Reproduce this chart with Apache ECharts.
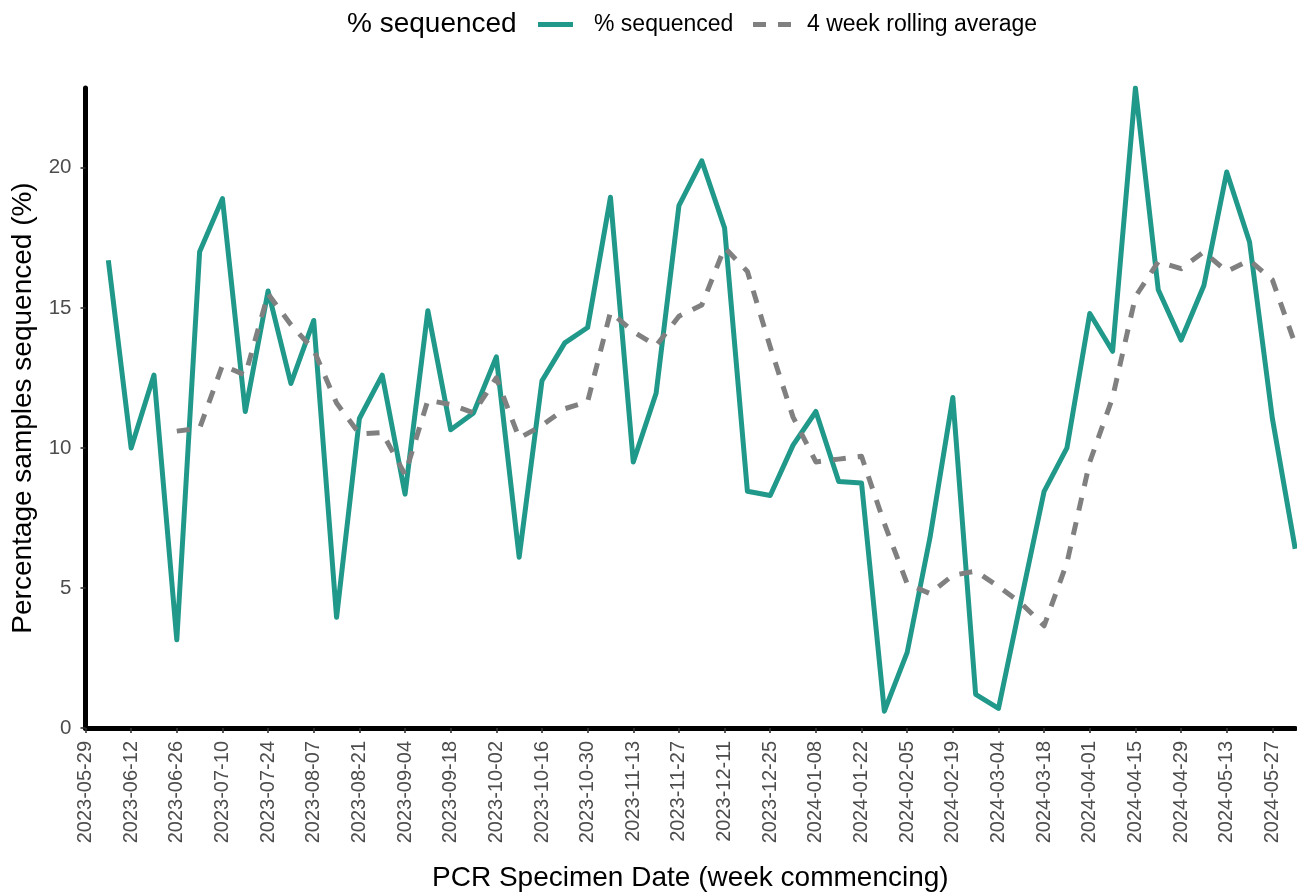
<!DOCTYPE html>
<html>
<head>
<meta charset="utf-8">
<script src="https://cdn.jsdelivr.net/npm/echarts@6/dist/echarts.min.js"></script>
<style>
html,body{margin:0;padding:0;background:#ffffff;}
#chart{width:1297px;height:892px;}
</style>
</head>
<body>
<div id="chart"></div>
<script>
// Weekly categories (week commencing)
const weeks = [
  '2023-05-29','2023-06-05','2023-06-12','2023-06-19','2023-06-26','2023-07-03','2023-07-10','2023-07-17',
  '2023-07-24','2023-07-31','2023-08-07','2023-08-14','2023-08-21','2023-08-28','2023-09-04','2023-09-11',
  '2023-09-18','2023-09-25','2023-10-02','2023-10-09','2023-10-16','2023-10-23','2023-10-30','2023-11-06',
  '2023-11-13','2023-11-20','2023-11-27','2023-12-04','2023-12-11','2023-12-18','2023-12-25','2024-01-01',
  '2024-01-08','2024-01-15','2024-01-22','2024-01-29','2024-02-05','2024-02-12','2024-02-19','2024-02-26',
  '2024-03-04','2024-03-11','2024-03-18','2024-03-25','2024-04-01','2024-04-08','2024-04-15','2024-04-22',
  '2024-04-29','2024-05-06','2024-05-13','2024-05-20','2024-05-27','2024-06-03'
];

// % sequenced (weekly)
const pctSequenced = [
  null, 16.7, 10.0, 12.6, 3.15, 17.0, 18.9, 11.3,
  15.6, 12.3, 14.55, 3.95, 11.05, 12.6, 8.35, 14.9,
  10.65, 11.25, 13.25, 6.1, 12.4, 13.75, 14.3, 18.95,
  9.5, 11.95, 18.65, 20.25, 17.85, 8.45, 8.3, 10.1,
  11.3, 8.8, 8.75, 0.6, 2.7, 6.8, 11.8, 1.2,
  0.7, 4.6, 8.45, 10.0, 14.8, 13.45, 22.85, 15.65,
  13.85, 15.8, 19.85, 17.35, 11.05, 6.4
];

// 4 week rolling average
const rollingAvg = [
  null, null, null, null, 10.6, 10.7, 12.95, 12.6,
  15.5, 14.4, 13.5, 11.6, 10.5, 10.55, 9.05, 11.7,
  11.55, 11.25, 12.5, 10.35, 10.8, 11.4, 11.65, 14.85,
  14.15, 13.65, 14.7, 15.1, 17.15, 16.3, 13.6, 11.1,
  9.5, 9.6, 9.7, 7.3, 5.15, 4.8, 5.45, 5.6,
  5.05, 4.45, 3.65, 5.9, 9.5, 11.8, 15.4, 16.65,
  16.4, 17.0, 16.3, 16.7, 16.0, 13.7
];

const yTicks = [0, 5, 10, 15, 20];
const yMax = 22.85;

const seriesNames = ['% sequenced', '4 week rolling average'];
const legendTitle = '% sequenced';
const xTitle = 'PCR Specimen Date (week commencing)';
const yTitle = 'Percentage samples sequenced (%)';

const FONT = '"Liberation Sans", Arial, Helvetica, sans-serif';
const GREEN = '#20998a';
const GREY = '#808080';

const chart = echarts.init(document.getElementById('chart'), null, {renderer: 'canvas'});

const option = {
  backgroundColor: '#ffffff',
  animation: false,
  textStyle: {fontFamily: FONT},
  graphic: [{
    type: 'text',
    left: 347,
    top: 10,
    style: {text: legendTitle, font: '28px ' + FONT, fill: '#000000'}
  }],
  legend: [
    {
      data: [seriesNames[0]],
      left: 538,
      top: 13,
      padding: 0,
      icon: 'rect',
      itemWidth: 35,
      itemHeight: 5,
      textStyle: {fontSize: 23, color: '#000000', fontFamily: FONT, padding: [0, 0, 0, 16]}
    },
    {
      data: [seriesNames[1]],
      left: 753,
      top: 13,
      padding: 0,
      icon: 'path://M0 0H13V5H0Z M25 0H38V5H25Z',
      itemWidth: 38,
      itemHeight: 5,
      textStyle: {fontSize: 23, color: '#000000', fontFamily: FONT, padding: [0, 0, 0, 11]}
    }
  ],
  grid: {left: 85.5, right: 1.8, top: 88, bottom: 164, containLabel: false, outerBoundsMode: 'none'},
  xAxis: {
    type: 'category',
    data: weeks,
    boundaryGap: false,
    name: xTitle,
    nameLocation: 'middle',
    nameGap: 136,
    nameTextStyle: {fontSize: 28, color: '#000000', fontFamily: FONT},
    axisLine: {show: true, lineStyle: {color: '#000000', width: 5}},
    axisTick: {show: true, interval: 1, length: 5, lineStyle: {color: '#333333', width: 1.6}},
    axisLabel: {interval: 1, rotate: 90, margin: 13, fontSize: 20, color: '#4d4d4d', fontFamily: FONT},
    splitLine: {show: false}
  },
  yAxis: {
    type: 'value',
    min: 0,
    max: yMax,
    interval: 5,
    name: yTitle,
    nameLocation: 'middle',
    nameGap: 48,
    nameTextStyle: {fontSize: 28, color: '#000000', fontFamily: FONT},
    axisLine: {show: true, lineStyle: {color: '#000000', width: 5}},
    axisTick: {show: true, length: 5, customValues: yTicks, lineStyle: {color: '#333333', width: 1.6}},
    axisLabel: {customValues: yTicks, margin: 14, fontSize: 20.5, color: '#4d4d4d', fontFamily: FONT},
    splitLine: {show: false}
  },
  series: [
    {
      name: seriesNames[0],
      type: 'line',
      data: pctSequenced,
      symbol: 'none',
      showSymbol: false,
      connectNulls: false,
      lineStyle: {color: GREEN, width: 5, join: 'round'},
      itemStyle: {color: GREEN},
      z: 3
    },
    {
      name: seriesNames[1],
      type: 'line',
      data: rollingAvg,
      symbol: 'none',
      showSymbol: false,
      lineStyle: {color: GREY, width: 5, type: [13, 12], join: 'round'},
      itemStyle: {color: GREY},
      z: 4
    }
  ]
};

chart.setOption(option);
</script>
</body>
</html>
